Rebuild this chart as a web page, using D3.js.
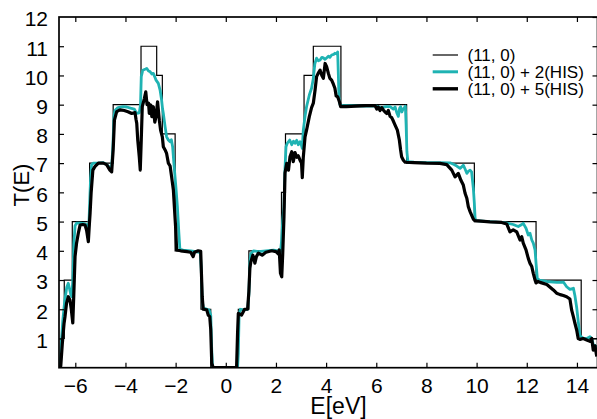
<!DOCTYPE html>
<html>
<head>
<meta charset="utf-8">
<script src="https://cdn.jsdelivr.net/npm/d3@7"></script>
<style>
html,body{margin:0;padding:0;background:#fff;}
svg{display:block;}
text{font-family:"Liberation Sans",Arial,Helvetica,sans-serif;fill:#000;}
</style>
</head>
<body>
<svg id="chart" width="597" height="419"></svg>
<script>
// ---- data ----
const xTicks = [-6,-4,-2,0,2,4,6,8,10,12,14];
const yTicks = [1,2,3,4,5,6,7,8,9,10,11,12];
const seriesNames = ["(11, 0)", "(11, 0) + 2(HIS)", "(11, 0) + 5(HIS)"];

// pristine (11,0): step function, value holds from E until next E
const pristine = [[-6.65,0],[-6.585,1],[-6.44,3],[-6.12,5],[-5.43,7],[-4.49,9],[-3.38,11],[-2.755,10],[-2.53,8],[-2.02,4],[-0.99,2],[-0.60,0],[0.50,2],[0.92,4],[2.22,6],[2.38,8],[3.12,10],[3.49,11],[4.59,9],[7.21,7],[9.91,5],[12.37,3],[14.17,1],[14.82,1]];

// (11,0) + 2(HIS)
const his2 = [[-6.65,0],[-6.60,0.05],[-6.56,0.8],[-6.50,1.6],[-6.42,2.3],[-6.34,2.75],[-6.28,2.89],[-6.23,2.7],[-6.18,2.5],[-6.14,2.43],[-6.10,3.0],[-6.06,4.2],[-6.01,4.85],[-5.95,4.95],[-5.8,4.95],[-5.65,4.93],[-5.55,4.9],[-5.5,4.75],[-5.46,4.85],[-5.42,5.8],[-5.39,6.5],[-5.35,6.95],[-5.28,7.0],[-5.1,7.0],[-4.9,7.02],[-4.75,6.95],[-4.62,6.85],[-4.55,6.9],[-4.50,7.6],[-4.46,8.6],[-4.42,8.8],[-4.3,8.9],[-4.1,8.93],[-3.95,8.92],[-3.8,8.88],[-3.65,8.85],[-3.55,8.7],[-3.45,8.72],[-3.40,9.0],[-3.37,9.96],[-3.31,10.18],[-3.20,10.22],[-3.15,10.24],[-3.08,10.15],[-3.02,10.13],[-2.95,10.05],[-2.89,10.07],[-2.83,9.95],[-2.78,9.84],[-2.69,9.73],[-2.62,9.5],[-2.56,9.16],[-2.52,8.85],[-2.49,8.7],[-2.42,8.25],[-2.36,7.9],[-2.29,7.79],[-2.22,7.73],[-2.17,7.8],[-2.12,7.56],[-2.07,7.0],[-1.99,6.19],[-1.93,5.51],[-1.87,4.6],[-1.83,4.05],[-1.7,4.02],[-1.4,4.0],[-1.2,3.97],[-1.1,3.95],[-1.02,3.97],[-0.98,3.4],[-0.94,2.3],[-0.90,2.05],[-0.75,2.0],[-0.66,1.97],[-0.60,1.8],[-0.56,0.6],[-0.53,0.05],[-0.5,0],[0.47,0],[0.50,0.5],[0.53,1.8],[0.58,2.0],[0.7,1.98],[0.87,2.0],[0.92,2.5],[0.96,3.6],[1.0,3.9],[1.1,4.0],[1.3,3.97],[1.6,4.0],[1.9,4.02],[2.1,4.0],[2.17,3.9],[2.22,4.3],[2.27,5.05],[2.32,5.5],[2.36,6.8],[2.40,7.56],[2.45,7.68],[2.55,7.79],[2.63,7.63],[2.7,7.75],[2.76,7.68],[2.83,7.78],[2.89,7.63],[2.96,7.73],[3.02,7.6],[3.05,7.5],[3.09,8.13],[3.16,8.6],[3.22,8.93],[3.33,9.33],[3.42,9.56],[3.49,9.9],[3.55,10.4],[3.62,10.59],[3.69,10.5],[3.76,10.53],[3.83,10.62],[3.89,10.6],[3.96,10.55],[4.09,10.66],[4.15,10.62],[4.22,10.7],[4.30,10.72],[4.35,10.76],[4.42,10.74],[4.46,10.8],[4.49,9.96],[4.51,9.27],[4.55,9.0],[4.65,8.97],[5.0,8.97],[5.5,8.95],[6.0,8.95],[6.2,8.9],[6.4,8.93],[6.55,8.93],[6.68,8.85],[6.75,8.92],[6.82,8.72],[6.88,8.6],[6.93,8.88],[6.97,8.93],[7.02,8.75],[7.05,8.82],[7.12,8.9],[7.16,8.95],[7.19,8.3],[7.22,7.4],[7.26,7.05],[7.5,7.03],[8.0,7.02],[8.5,7.02],[8.94,7.01],[9.1,6.95],[9.21,6.9],[9.34,6.82],[9.47,6.93],[9.54,6.8],[9.61,6.65],[9.67,6.72],[9.74,6.76],[9.8,6.7],[9.87,6.14],[9.91,5.62],[9.94,5.11],[9.98,5.03],[10.5,5.0],[11.0,4.97],[11.2,4.95],[11.46,4.9],[11.66,4.83],[11.8,4.9],[11.86,4.94],[11.97,4.77],[12.06,4.54],[12.13,4.6],[12.2,4.37],[12.26,4.26],[12.33,4.03],[12.37,3.57],[12.42,3.06],[12.5,3.0],[12.8,2.95],[13.2,2.92],[13.46,2.93],[13.59,2.77],[13.72,2.68],[13.86,2.72],[13.92,2.46],[13.99,2.06],[14.05,1.6],[14.12,1.1],[14.25,1.0],[14.39,1.0],[14.52,1.06],[14.59,1.0],[14.65,0.8],[14.72,0.75],[14.82,0.7]];

// (11,0) + 5(HIS)
const his5 = [[-6.65,0],[-6.58,0.05],[-6.52,0.8],[-6.45,1.5],[-6.41,1.75],[-6.35,2.2],[-6.28,2.43],[-6.21,2.31],[-6.16,2.0],[-6.10,1.53],[-6.06,2.5],[-6.01,3.8],[-5.95,4.26],[-5.88,4.6],[-5.81,4.88],[-5.7,4.9],[-5.61,4.88],[-5.55,4.7],[-5.48,4.31],[-5.44,4.9],[-5.41,5.29],[-5.37,5.97],[-5.30,6.76],[-5.22,6.88],[-5.08,7.0],[-4.88,7.0],[-4.75,6.95],[-4.62,6.76],[-4.55,6.7],[-4.49,7.45],[-4.44,8.47],[-4.35,8.76],[-4.22,8.82],[-4.05,8.8],[-3.90,8.76],[-3.75,8.7],[-3.62,8.73],[-3.58,8.5],[-3.55,8.36],[-3.51,7.79],[-3.45,7.22],[-3.41,6.76],[-3.37,7.8],[-3.33,8.93],[-3.25,9.2],[-3.19,9.44],[-3.14,9.0],[-3.08,9.05],[-3.05,8.7],[-2.99,8.99],[-2.95,8.59],[-2.89,8.93],[-2.83,8.4],[-2.78,8.6],[-2.72,9.1],[-2.65,8.47],[-2.60,8.13],[-2.53,7.9],[-2.49,7.56],[-2.42,7.45],[-2.36,7.33],[-2.29,7.0],[-2.22,6.9],[-2.16,6.53],[-2.09,6.08],[-2.05,5.5],[-2.00,4.8],[-1.96,4.03],[-1.8,4.0],[-1.55,3.97],[-1.4,3.95],[-1.3,3.8],[-1.25,3.95],[-1.1,4.0],[-1.0,3.98],[-0.97,3.2],[-0.94,2.43],[-0.90,2.0],[-0.76,1.98],[-0.70,1.8],[-0.64,1.75],[-0.60,1.3],[-0.56,0.15],[-0.50,0],[0.43,0],[0.47,1.2],[0.50,1.86],[0.63,1.8],[0.75,2.0],[0.87,2.0],[0.92,2.6],[0.96,3.4],[1.0,3.63],[1.08,3.85],[1.16,3.58],[1.22,3.8],[1.30,3.92],[1.45,3.85],[1.6,3.95],[1.83,4.0],[2.0,3.97],[2.09,3.9],[2.13,4.03],[2.18,3.23],[2.23,3.11],[2.27,3.9],[2.32,5.17],[2.36,6.66],[2.43,6.99],[2.50,6.76],[2.56,7.22],[2.63,7.39],[2.69,7.05],[2.76,7.36],[2.83,7.2],[2.89,7.25],[2.96,7.1],[3.02,7.0],[3.05,6.5],[3.09,7.2],[3.16,7.9],[3.22,8.13],[3.33,8.59],[3.42,8.9],[3.49,9.05],[3.56,9.5],[3.62,9.96],[3.7,10.1],[3.76,10.18],[3.83,10.0],[3.89,9.9],[3.96,10.41],[4.02,10.3],[4.09,10.07],[4.15,9.9],[4.22,9.84],[4.29,9.7],[4.35,9.56],[4.40,9.3],[4.46,9.27],[4.53,9.1],[4.58,8.93],[4.8,8.93],[5.2,8.95],[5.6,8.97],[5.95,8.97],[6.02,8.85],[6.08,8.92],[6.15,8.8],[6.22,8.9],[6.28,8.82],[6.35,8.75],[6.42,8.7],[6.48,8.8],[6.55,8.6],[6.62,8.55],[6.68,8.44],[6.75,8.3],[6.84,8.13],[6.92,7.79],[6.97,7.45],[7.01,7.22],[7.08,7.1],[7.15,7.03],[7.5,7.02],[8.0,7.0],[8.54,6.99],[8.81,6.95],[9.01,6.76],[9.14,6.53],[9.27,6.65],[9.37,6.42],[9.47,6.25],[9.54,5.97],[9.61,5.8],[9.67,5.51],[9.74,5.34],[9.80,5.22],[9.87,5.08],[9.94,5.03],[10.53,4.99],[11.0,4.97],[11.2,4.92],[11.33,4.65],[11.46,4.72],[11.6,4.65],[11.73,4.37],[11.8,4.48],[11.86,4.26],[11.97,4.03],[12.06,3.74],[12.13,3.57],[12.2,3.46],[12.26,3.23],[12.33,3.0],[12.37,2.9],[12.45,2.95],[12.53,2.92],[12.8,2.85],[13.06,2.66],[13.19,2.55],[13.33,2.5],[13.46,2.47],[13.59,2.43],[13.72,2.35],[13.79,1.97],[13.86,1.74],[13.92,1.52],[13.99,1.29],[14.05,1.0],[14.12,0.97],[14.25,1.0],[14.39,0.95],[14.52,0.9],[14.59,1.0],[14.65,0.6],[14.72,0.75],[14.79,0.38]];

// ---- layout ----
const L = 59, R = 597.5, T = 17, B = 367.7;
const svg = d3.select("#chart");
const x = d3.scaleLinear().domain([-6.65, 14.82]).range([L, R]);
const y = d3.scaleLinear().domain([0, 12]).range([B, T]);

svg.append("defs").append("clipPath").attr("id","clip")
  .append("rect").attr("x",L).attr("y",T).attr("width",R-L).attr("height",B-T);

const line = d3.line().x(d=>x(d[0])).y(d=>y(d[1]));
const stepLine = d3.line().x(d=>x(d[0])).y(d=>y(d[1])).curve(d3.curveStepAfter);

const cyan = "#1fb3b3";
const g = svg.append("g").attr("clip-path","url(#clip)");
g.append("path").datum(pristine).attr("d",stepLine)
  .attr("fill","none").attr("stroke","#000").attr("stroke-width",1.2);
g.append("path").datum(his2).attr("d",line)
  .attr("fill","none").attr("stroke",cyan).attr("stroke-width",2.8).attr("stroke-linejoin","round");
g.append("path").datum(his5).attr("d",line)
  .attr("fill","none").attr("stroke","#000").attr("stroke-width",3.2).attr("stroke-linejoin","round");

// axes (ticks inward on all sides)
const tl = 5;
const axB = svg.append("g").attr("transform",`translate(0,${B})`)
  .call(d3.axisBottom(x).tickValues(xTicks).tickSize(-tl).tickPadding(10).tickFormat(d3.format("d")));
const axT = svg.append("g").attr("transform",`translate(0,${T})`)
  .call(d3.axisTop(x).tickValues(xTicks).tickSize(-tl).tickFormat(""));
const axL = svg.append("g").attr("transform",`translate(${L},0)`)
  .call(d3.axisLeft(y).tickValues(yTicks).tickSize(-tl).tickPadding(11).tickFormat(d3.format("d")));
const axR = svg.append("g").attr("transform",`translate(${R},0)`)
  .call(d3.axisRight(y).tickValues(yTicks).tickSize(-tl).tickFormat(""));
[axB,axT,axL,axR].forEach(a=>{
  a.select(".domain").remove();
  a.selectAll(".tick line").attr("stroke","#000").attr("stroke-width",1.2);
});
axB.selectAll(".tick text").attr("font-size",21).attr("font-family","Liberation Sans, Arial, sans-serif").attr("dy","0.71em");
axL.selectAll(".tick text").attr("font-size",21).attr("font-family","Liberation Sans, Arial, sans-serif").attr("dy","0.42em");
axL.selectAll(".tick").filter(d=>d===12).select("line").remove();

svg.append("rect").attr("x",L).attr("y",T).attr("width",R-L).attr("height",B-T)
  .attr("fill","none").attr("stroke","#000").attr("stroke-width",1.7);

// axis titles
svg.append("text").attr("x",338.5).attr("y",414).attr("text-anchor","middle")
  .attr("font-size",23).text("E[eV]");
svg.append("text").attr("transform","translate(29,185) rotate(-90)").attr("text-anchor","middle")
  .attr("font-size",22).text("T(E)");

// legend
const legStyles = [{c:"#000",w:1.2},{c:cyan,w:3},{c:"#000",w:3.4}];
const legY = [55, 71.8, 88.8];
seriesNames.forEach((n,i)=>{
  svg.append("line").attr("x1",432.7).attr("x2",458).attr("y1",legY[i]).attr("y2",legY[i])
    .attr("stroke",legStyles[i].c).attr("stroke-width",legStyles[i].w);
  svg.append("text").attr("x",467.5).attr("y",legY[i]+6.3).attr("font-size",17).text(n);
});
</script>
</body>
</html>
